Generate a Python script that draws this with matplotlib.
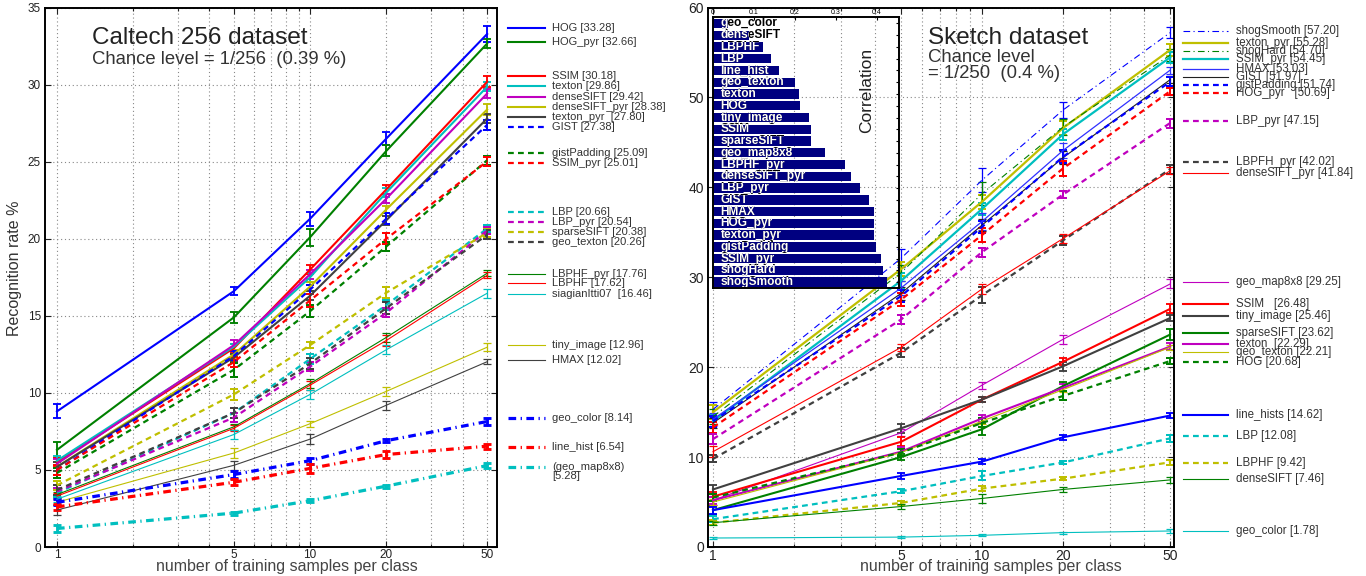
import numpy as np
import matplotlib
matplotlib.use("Agg")
import matplotlib.pyplot as plt
from matplotlib.lines import Line2D
from matplotlib.ticker import FixedLocator, NullFormatter, FixedFormatter
from matplotlib.transforms import Bbox, TransformedBbox

plt.rcParams['font.family'] = ['Liberation Sans', 'DejaVu Sans']

# ── DATA ──────────────────────────────────────────────────────────────────────

train_sizes = [1, 5, 10, 20, 50]

caltech_names = ["HOG", "HOG_pyr", "SSIM", "texton", "denseSIFT", "denseSIFT_pyr",
                 "texton_pyr", "GIST", "gistPadding", "SSIM_pyr", "LBP", "LBP_pyr",
                 "sparseSIFT", "geo_texton", "LBPHF_pyr", "LBPHF", "siagianItti07",
                 "tiny_image", "HMAX", "geo_color", "line_hist", "geo_map8x8"]
caltech_acc = [
    [8.8, 16.6, 21.3, 26.5, 33.28],
    [6.3, 14.9, 20.1, 25.7, 32.66],
    [5.5, 12.9, 18.0, 23.2, 30.18],
    [5.6, 13.0, 17.5, 23.0, 29.86],
    [5.4, 13.1, 17.7, 22.6, 29.42],
    [5.2, 12.5, 16.9, 21.9, 28.38],
    [5.2, 12.3, 16.3, 21.2, 27.80],
    [5.0, 12.4, 16.7, 21.3, 27.38],
    [4.8, 11.5, 15.3, 19.5, 25.09],
    [5.0, 12.0, 16.0, 20.0, 25.01],
    [3.5, 8.7, 12.2, 15.7, 20.66],
    [3.6, 8.4, 11.7, 15.2, 20.54],
    [4.0, 9.9, 13.1, 16.5, 20.38],
    [3.7, 8.7, 11.9, 15.5, 20.26],
    [3.4, 7.8, 10.6, 13.6, 17.76],
    [3.3, 7.7, 10.5, 13.4, 17.62],
    [3.1, 7.3, 9.9, 12.8, 16.46],
    [2.9, 6.1, 8.0, 10.1, 12.96],
    [2.4, 5.3, 7.0, 9.2, 12.02],
    [2.9, 4.7, 5.6, 6.9, 8.14],
    [2.6, 4.2, 5.1, 6.0, 6.54],
    [1.2, 2.2, 3.0, 3.95, 5.28],
]
caltech_err = [
    [0.45, 0.25, 0.45, 0.45, 0.5],
    [0.5, 0.35, 0.55, 0.35, 0.3],
    [0.3, 0.3, 0.3, 0.3, 0.35],
    [0.3, 0.2, 0.3, 0.3, 0.3],
    [0.3, 0.3, 0.3, 0.3, 0.3],
    [0.3, 0.25, 0.3, 0.25, 0.35],
    [0.3, 0.25, 0.3, 0.3, 0.3],
    [0.3, 0.3, 0.3, 0.35, 0.35],
    [0.35, 0.45, 0.4, 0.3, 0.3],
    [0.3, 0.3, 0.4, 0.35, 0.3],
    [0.25, 0.3, 0.3, 0.3, 0.25],
    [0.25, 0.3, 0.3, 0.3, 0.25],
    [0.3, 0.35, 0.2, 0.35, 0.25],
    [0.3, 0.3, 0.35, 0.4, 0.3],
    [0.2, 0.2, 0.3, 0.3, 0.2],
    [0.2, 0.2, 0.3, 0.35, 0.2],
    [0.2, 0.3, 0.3, 0.3, 0.3],
    [0.2, 0.3, 0.2, 0.3, 0.25],
    [0.3, 0.3, 0.3, 0.3, 0.15],
    [0.2, 0.2, 0.2, 0.1, 0.2],
    [0.2, 0.2, 0.3, 0.25, 0.15],
    [0.2, 0.1, 0.1, 0.1, 0.15],
]
caltech_labels = ["HOG [33.28]", "HOG_pyr [32.66]", "SSIM [30.18]", "texton [29.86]",
                  "denseSIFT [29.42]", "denseSIFT_pyr [28.38]", "texton_pyr  [27.80]",
                  "GIST [27.38]", "gistPadding [25.09]", "SSIM_pyr [25.01]", "LBP [20.66]",
                  "LBP_pyr [20.54]", "sparseSIFT [20.38]", "geo_texton [20.26]",
                  "LBPHF_pyr [17.76]", "LBPHF [17.62]", "siagianItti07  [16.46]",
                  "tiny_image [12.96]", "HMAX [12.02]", "geo_color [8.14]",
                  "line_hist [6.54]", "(geo_map8x8)\n[5.28]"]

sketch_names = ["shogSmooth", "texton_pyr", "shogHard", "SSIM_pyr", "HMAX", "GIST",
                "gistPadding", "HOG_pyr", "LBP_pyr", "LBPFH_pyr", "denseSIFT_pyr",
                "geo_map8x8", "SSIM", "tiny_image", "sparseSIFT", "texton", "geo_texton",
                "HOG", "line_hists", "LBP", "LBPHF", "denseSIFT", "geo_color"]
sketch_acc = [
    [15.3, 32.1, 40.8, 48.6, 57.20],
    [15.0, 30.9, 38.4, 46.6, 55.28],
    [14.5, 30.5, 39.3, 46.7, 54.70],
    [14.0, 29.6, 37.6, 45.9, 54.45],
    [14.2, 28.8, 36.2, 44.1, 53.03],
    [13.8, 28.2, 35.8, 43.3, 51.97],
    [14.0, 27.9, 35.6, 43.4, 51.74],
    [13.3, 27.5, 34.7, 42.1, 50.69],
    [12.0, 25.3, 32.8, 39.2, 47.15],
    [9.8, 21.6, 28.0, 34.1, 42.02],
    [10.6, 22.2, 28.7, 34.3, 41.84],
    [5.2, 12.7, 18.0, 23.1, 29.25],
    [5.6, 11.7, 16.4, 20.6, 26.48],
    [6.4, 13.2, 16.4, 20.1, 25.46],
    [4.1, 10.0, 13.1, 17.9, 23.62],
    [5.2, 10.6, 14.3, 17.7, 22.29],
    [5.0, 10.5, 14.0, 17.5, 22.21],
    [5.5, 10.5, 13.8, 16.8, 20.68],
    [4.1, 7.9, 9.5, 12.2, 14.62],
    [3.1, 6.2, 7.9, 9.4, 12.08],
    [2.7, 4.9, 6.5, 7.6, 9.42],
    [2.7, 4.5, 5.4, 6.4, 7.46],
    [1.0, 1.1, 1.3, 1.6, 1.78],
]
sketch_err = [
    [0.8, 1.0, 1.3, 0.9, 0.6],
    [0.8, 0.8, 0.8, 0.8, 0.7],
    [0.8, 0.9, 1.3, 0.9, 0.7],
    [0.7, 0.9, 0.7, 0.6, 0.6],
    [0.7, 0.8, 0.9, 0.8, 0.4],
    [0.6, 0.7, 0.7, 0.7, 0.4],
    [0.6, 0.7, 0.7, 0.7, 0.5],
    [0.6, 0.7, 0.8, 0.8, 0.4],
    [0.6, 0.5, 0.5, 0.4, 0.5],
    [0.4, 0.5, 0.9, 0.5, 0.5],
    [0.6, 0.4, 0.6, 0.5, 0.4],
    [0.5, 0.4, 0.4, 0.5, 0.5],
    [0.5, 0.5, 0.3, 0.4, 0.5],
    [0.5, 0.5, 0.3, 0.5, 0.3],
    [0.5, 0.3, 0.6, 0.5, 0.6],
    [0.4, 0.5, 0.4, 0.4, 0.4],
    [0.3, 0.4, 0.3, 0.3, 0.3],
    [0.4, 0.4, 0.5, 0.5, 0.3],
    [0.4, 0.3, 0.3, 0.3, 0.3],
    [0.3, 0.2, 0.5, 0.2, 0.4],
    [0.3, 0.2, 0.3, 0.2, 0.3],
    [0.2, 0.3, 0.5, 0.3, 0.3],
    [0.1, 0.1, 0.1, 0.1, 0.2],
]
sketch_labels = ["shogSmooth [57.20]", "texton_pyr [55.28]", "shogHard [54.70]",
                 "SSIM_pyr [54.45]", "HMAX [53.03]", "GIST [51.97]", "gistPadding [51.74]",
                 "HOG_pyr   [50.69]", "LBP_pyr [47.15]", "LBPFH_pyr [42.02]",
                 "denseSIFT_pyr [41.84]", "geo_map8x8 [29.25]", "SSIM   [26.48]",
                 "tiny_image [25.46]", "sparseSIFT [23.62]", "texton  [22.29]",
                 "geo_texton [22.21]", "HOG [20.68]", "line_hists [14.62]", "LBP [12.08]",
                 "LBPHF [9.42]", "denseSIFT [7.46]", "geo_color [1.78]"]

corr_names = ["geo_color", "denseSIFT", "LBPHF", "LBP", "line_hist", "geo_texton", "texton",
              "HOG", "tiny_image", "SSIM", "sparseSIFT", "geo_map8x8", "LBPHF_pyr",
              "denseSIFT_pyr", "LBP_pyr", "GIST", "HMAX", "HOG_pyr", "texton_pyr",
              "gistPadding", "SSIM_pyr", "shogHard", "shogSmooth"]
corr_values = [0.036, 0.087, 0.121, 0.141, 0.160, 0.200, 0.211, 0.213, 0.235, 0.238, 0.240,
               0.274, 0.322, 0.337, 0.359, 0.381, 0.393, 0.393, 0.393, 0.398, 0.410, 0.415,
               0.425]

# ── STYLES / LAYOUT ───────────────────────────────────────────────────────────

B, G, R, C, M, Y, K = "#0000ff", "#008000", "#ff0000", "#00bfbf", "#bf00bf", "#bfbf00", "#404040"
DASH = (0, (2.6, 1.9))
DDOT = (0, (2.4, 1.4, 0.4, 1.4))
TDOT = (0, (6, 3, 1, 3))

# (color, linestyle, linewidth)
caltech_style = [
    (B, "-", 1.5), (G, "-", 1.5), (R, "-", 1.5), (C, "-", 1.5), (M, "-", 1.5), (Y, "-", 1.5),
    (K, "-", 1.5), (B, DASH, 1.6), (G, DASH, 1.6), (R, DASH, 1.6), (C, DASH, 1.6),
    (M, DASH, 1.6), (Y, DASH, 1.6), (K, DASH, 1.6), (G, "-", 0.8), (R, "-", 0.8),
    (C, "-", 0.8), (Y, "-", 0.8), (K, "-", 0.8), (B, DDOT, 2.3), (R, DDOT, 2.3), (C, DDOT, 2.3),
]
sketch_style = [
    (B, TDOT, 0.8), (Y, "-", 1.6), (G, TDOT, 0.8), (C, "-", 1.6), ("#3030ff", "-", 0.9),
    ("#202020", "-", 0.8), (B, DASH, 1.6), (R, DASH, 1.6), (M, DASH, 1.6), (K, DASH, 1.6),
    (R, "-", 0.8), (M, "-", 0.8), (R, "-", 1.5), (K, "-", 1.5), (G, "-", 1.5), (M, "-", 1.5),
    (Y, "-", 0.8), (G, DASH, 1.6), (B, "-", 1.5), (C, DASH, 1.6), (Y, DASH, 1.6),
    (G, "-", 0.8), (C, "-", 0.8),
]

# legend rows (pixel y in the 1366x576 canvas)
caltech_leg_y = [28, 42, 76, 86, 97, 107, 117, 127, 153, 163, 212, 222, 232, 242, 274, 283,
                 294, 345, 360, 418, 447, 467]
sketch_leg_y = [31, 43, 51, 59, 69, 77, 85, 93, 121, 162, 173, 282, 304, 316, 333, 344, 352,
                362, 415, 436, 463, 479, 531]

W, H = 1366, 576


def fx(px):
    return px / W


def fy(py):
    return 1 - py / H


def style_log_axes(ax, xlim, ylim, yticks, fs):
    ax.set_xscale("log")
    ax.set_xlim(*xlim)
    ax.set_ylim(*ylim)
    ax.xaxis.set_major_locator(FixedLocator(train_sizes))
    ax.xaxis.set_major_formatter(FixedFormatter([str(v) for v in train_sizes]))
    minor = [2, 3, 4, 6, 7, 8, 9, 30, 40]
    ax.xaxis.set_minor_locator(FixedLocator(minor))
    ax.xaxis.set_minor_formatter(NullFormatter())
    ax.set_yticks(yticks)
    ax.grid(True, which="both", axis="x", linestyle=(0, (1, 2.5)), color="#888888", lw=0.8)
    ax.grid(True, which="major", axis="y", linestyle=(0, (1, 2.5)), color="#888888", lw=0.8)
    ax.tick_params(which="both", direction="in", top=True, right=True, labelsize=fs,
                   colors="#222222", length=4, width=0.8, pad=3)
    ax.tick_params(axis="x", pad=1.5)
    ax.tick_params(which="minor", length=2)
    for sp in ax.spines.values():
        sp.set_linewidth(1.4)


def draw_series(ax, acc, err, styles):
    for vals, e, (col, ls, lw) in zip(acc, err, styles):
        line = ax.errorbar(train_sizes, vals, yerr=e, color=col, lw=lw, capsize=3,
                           elinewidth=max(lw, 1.0) * 0.9, capthick=max(lw, 1.0) * 0.9)
        line[0].set_linestyle(ls)
        line[0].set_dash_capstyle("butt")


def draw_legend(fig, labels, ys, styles, x0, x1, xt, fs):
    for lab, yy, (col, ls, lw) in zip(labels, ys, styles):
        ln = Line2D([fx(x0), fx(x1)], [fy(yy), fy(yy)], color=col, ls=ls, lw=lw,
                    transform=fig.transFigure)
        fig.add_artist(ln)
        if "\n" in lab:
            fig.text(fx(xt), fy(yy - 5.5), lab, fontsize=fs, va="top", color="#333333",
                     linespacing=0.9)
        else:
            fig.text(fx(xt), fy(yy), lab, fontsize=fs, va="center", color="#333333")


# ── FIGURE ────────────────────────────────────────────────────────────────────

fig = plt.figure(figsize=(13.66, 5.76), dpi=100)

# left: Caltech 256
ax1 = fig.add_axes([fx(45), fy(547), fx(497 - 45), (547 - 7.5) / H])
draw_series(ax1, caltech_acc, caltech_err, caltech_style)
style_log_axes(ax1, (0.897, 54.7), (0, 35), range(0, 36, 5), 8.5)
fig.text(fx(15), fy(268), "Recognition rate %", fontsize=11.5, color="#333333",
         rotation=90, ha="center", va="center")
fig.text(fx(287), fy(567), "number of training samples per class", fontsize=11.5,
         color="#444444", ha="center", va="center")
fig.text(fx(92), fy(38), "Caltech 256 dataset", fontsize=17.5, va="center", color="#222222")
fig.text(fx(92), fy(60), "Chance level = 1/256  (0.39 %)", fontsize=13.3, va="center",
         color="#333333")
draw_legend(fig, caltech_labels, caltech_leg_y, caltech_style, 508, 545, 552, 8)

# right: Sketch dataset
ax2 = fig.add_axes([fx(708), fy(547), fx(1174 - 708), (547 - 7.5) / H])
draw_series(ax2, sketch_acc, sketch_err, sketch_style)
style_log_axes(ax2, (0.958, 51.7), (0, 60), range(0, 61, 10), 10)
fig.text(fx(991), fy(567), "number of training samples per class", fontsize=11.5,
         color="#444444", ha="center", va="center")
fig.text(fx(928), fy(38), "Sketch dataset", fontsize=17.5, va="center", color="#222222")
fig.text(fx(928), fy(58), "Chance level", fontsize=13.3, va="center", color="#333333")
fig.text(fx(928), fy(74), "= 1/250  (0.4 %)", fontsize=13.3, va="center", color="#333333")
draw_legend(fig, sketch_labels, sketch_leg_y, sketch_style, 1183, 1228, 1236, 8.3)

# inset: correlation bar chart
axi = fig.add_axes([fx(713), fy(288), fx(899 - 713), (288 - 17) / H])
axi.patch.set_alpha(0)
ypos = np.arange(len(corr_names))
bars = axi.barh(ypos, corr_values, height=0.8, color="#000080", zorder=2)
axi.set_ylim(len(corr_names) - 0.5, -0.55)
axi.set_xlim(0, 0.454)
axi.xaxis.tick_top()
axi.set_xticks([0, 0.1, 0.2, 0.3, 0.4])
axi.set_xticklabels(["0", "0.1", "0.2", "0.3", "0.4"])
axi.set_yticks(ypos)
axi.tick_params(axis="x", labelsize=5, pad=1, direction="in", length=2)
axi.tick_params(axis="y", left=True, right=True, labelleft=False, direction="in", length=2)
for sp in axi.spines.values():
    sp.set_linewidth(1.4)
for yy, name, val in zip(ypos, corr_names, corr_values):
    axi.text(0.0185, yy, name, fontsize=8.6, fontweight="bold", color="black",
             va="center", zorder=3)
    t = axi.text(0.0185, yy, name, fontsize=8.6, fontweight="bold", color="white",
                 va="center", zorder=4)
    t.set_clip_box(TransformedBbox(Bbox([[0, yy - 0.45], [val, yy + 0.45]]), axi.transData))
    t.set_clip_on(True)
axi.text(0.375, 5.7, "Correlation", rotation=90, fontsize=12.5, va="center", ha="center",
         color="#222222")

fig.savefig("out.png", dpi=100)
